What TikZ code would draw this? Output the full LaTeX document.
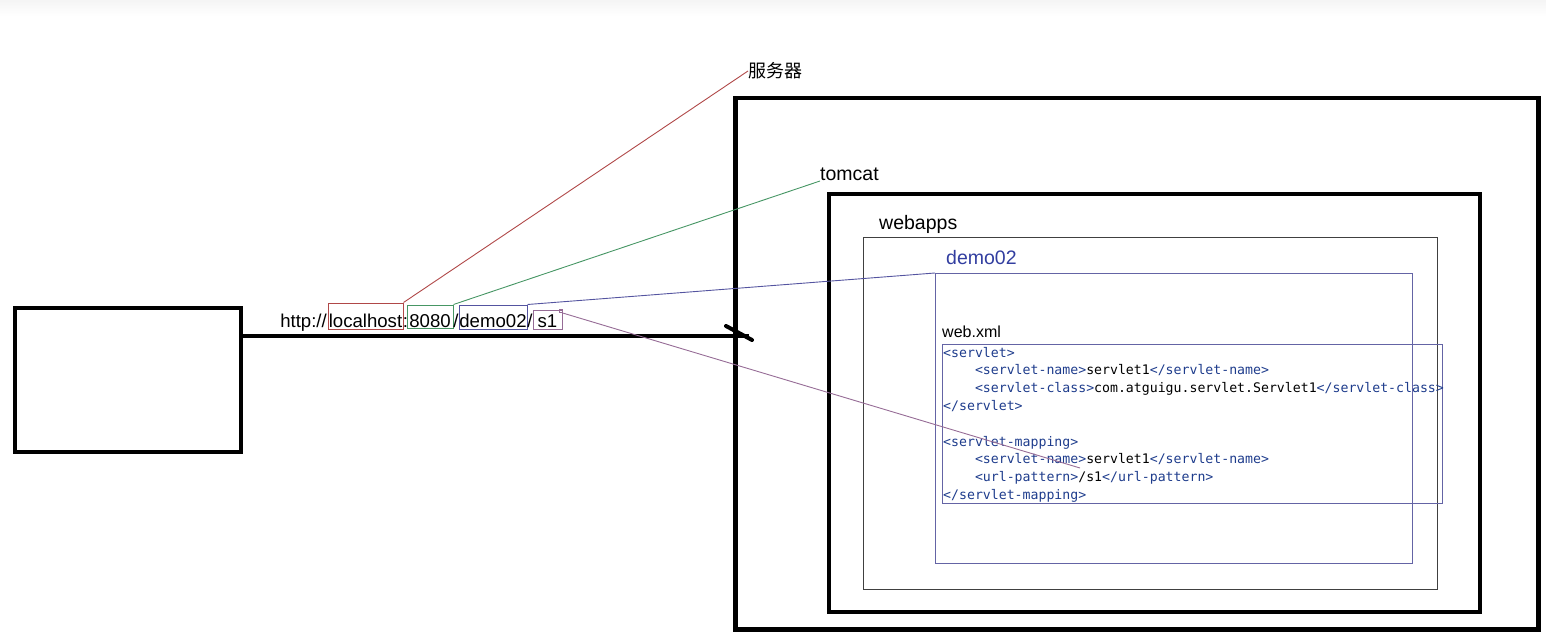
\documentclass[tikz,border=0pt]{standalone}
\usepackage{fontspec}
\setmainfont{Liberation Sans}
\setmonofont{DejaVu Sans Mono}
\newfontfamily\cjk{Noto Sans CJK SC}
\definecolor{hostred}{RGB}{176,72,72}
\definecolor{portgreen}{RGB}{70,150,100}
\definecolor{appblue}{RGB}{84,84,160}
\definecolor{respurple}{RGB}{150,108,150}
\definecolor{demoblue}{RGB}{50,62,160}
\definecolor{boxblue}{RGB}{100,100,165}
\definecolor{tagblue}{RGB}{30,60,140}
\newcommand{\tg}[1]{\textcolor{tagblue}{#1}}
\newcommand{\ind}{\phantom{0000}}
\begin{document}
\begin{tikzpicture}[x=1pt, y=-1pt,
  frame/.style={draw=black, line width=4.5pt, inner sep=0pt, anchor=north west},
  thinbox/.style={draw=#1, line width=1.1pt, inner sep=0pt, anchor=north west},
  urlbox/.style={draw=#1, line width=1pt, inner sep=0pt, anchor=base, font=\fontsize{18.6}{21}\selectfont},
  urltext/.style={inner sep=0pt, font=\fontsize{18.6}{21}\selectfont},
  lbl/.style={inner sep=0pt, anchor=base west, font=\fontsize{19.5}{22}\selectfont},
  codeline/.style={inner sep=0pt, anchor=base west, font=\ttfamily\fontsize{13.2}{15}\selectfont},
  pointer/.style={draw=#1, line width=0.9pt}]
\useasboundingbox (0,0) rectangle (1546,636);
\shade[top color=black!4, bottom color=white] (0,0) rectangle (1546,16);

\node[frame, line width=3.8pt, minimum width=226pt, minimum height=144pt] (client) at (13,306) {};
\node[frame, minimum width=803pt, minimum height=531pt] (server) at (733,96) {};
\node[frame, line width=4.2pt, minimum width=651pt, minimum height=418pt] (tomcat) at (827,192) {};
\node[thinbox=black!75] (webapps) at (863,237) [minimum width=574pt, minimum height=352pt] {};
\node[thinbox=boxblue] (demo) at (935,273) [minimum width=477pt, minimum height=290pt] {};
\node[thinbox=boxblue] (webxml) at (942,344) [minimum width=500pt, minimum height=159pt] {};

\node[anchor=west, inner sep=0pt, font=\cjk\fontsize{18}{20}\selectfont] (srv) at (748,71) {服务器};
\node[lbl] (tc) at (820,181) {tomcat};
\node[lbl] (wa) at (879,230) {webapps};
\node[lbl, text=demoblue] (dm) at (946,265) {demo02};
\node[lbl, font=\fontsize{16}{18}\selectfont] (wx) at (942,337) {web.xml};

\node[urlbox=hostred, minimum width=75pt, text height=24pt, text depth=2pt] (host) at (365.5,327) {localhost};
\node[urlbox=portgreen, minimum width=46pt, text height=22pt, text depth=1pt] (port) at (430,327) {8080};
\node[urlbox=appblue, minimum width=68pt, text height=22pt, text depth=2pt] (app) at (493,327) {demo02};
\node[urlbox=respurple, minimum width=29pt, text height=17pt, text depth=2pt] (res) at (547.5,327) {s1};
\node[urltext, anchor=base east] (proto) at (327,327) {http://};
\node[urltext, anchor=base] (colon) at (405.5,327) {:};
\node[urltext, anchor=base] (sla) at (456,327) {/};
\node[urltext, anchor=base] (slb) at (530,327) {/};
\node[draw=respurple, line width=0.8pt, minimum size=3.5pt, inner sep=0pt] (dot) at (561,311) {};

\node[codeline] (c1) at (943,357) {\tg{<servlet>}};
\node[codeline] (c2) at (943,374.8) {\ind\tg{<servlet-name>}servlet1\tg{</servlet-name>}};
\node[codeline] (c3) at (943,392.6) {\ind\tg{<servlet-class>}com.atguigu.servlet.Servlet1\tg{</servlet-class>}};
\node[codeline] (c4) at (943,410.4) {\tg{</servlet>}};
\node[codeline] (c6) at (943,446) {\tg{<servlet-mapping>}};
\node[codeline] (c7) at (943,463.8) {\ind\tg{<servlet-name>}servlet1\tg{</servlet-name>}};
\node[codeline] (c8) at (943,481.6) {\ind\tg{<url-pattern>}/s1\tg{</url-pattern>}};
\node[codeline] (c9) at (943,499.4) {\tg{</servlet-mapping>}};

\coordinate (hit) at (749,336);
\coordinate (pattern) at (1080,468);
\draw[line width=4pt] (client.east |- hit) -- (hit);
\draw[line width=4pt, line cap=round] ([shift={(-23,-10)}]hit) -- ([shift={(3,4)}]hit);
\draw[pointer=hostred] (host.north east) -- (srv.west);
\draw[pointer=portgreen] (port.north east) -- (tc.base west);
\draw[pointer=appblue] (app.north east) -- (demo.north west);
\draw[pointer=respurple] (dot.south east) -- (pattern);
\end{tikzpicture}
\end{document}
